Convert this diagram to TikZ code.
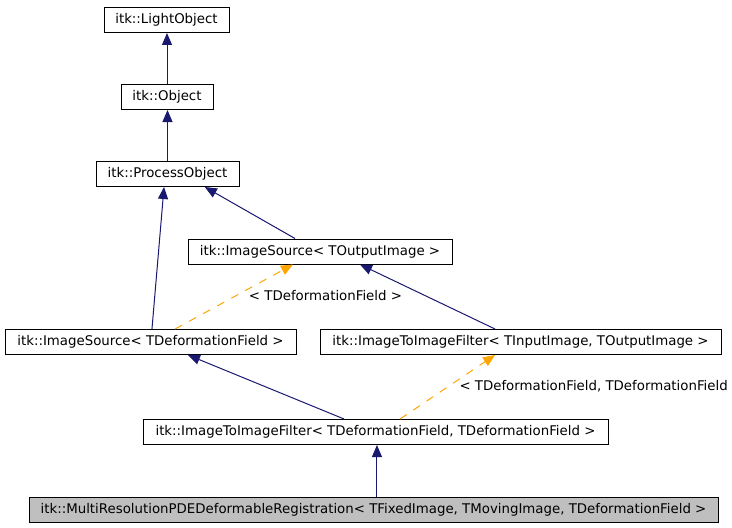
\documentclass[tikz,border=0pt]{standalone}
\usepackage{fontspec}
\setmainfont{DejaVu Sans}
\usetikzlibrary{arrows.meta}
\definecolor{edgeblue}{RGB}{25,25,112}
\definecolor{tmplorange}{RGB}{255,165,0}
\definecolor{boxgray}{RGB}{191,191,191}
\tikzset{every picture/.style={line width=0.75pt}}
\tikzset{
  classbox/.style={draw=black,fill=white,inner sep=0pt,minimum height=18.75pt,font=\fontsize{10pt}{12pt}\selectfont},
  inherit/.style={draw=edgeblue,line width=0.75pt,-{Triangle[length=9pt,width=7.5pt]}},
  tmplarg/.style={draw=tmplorange,line width=0.75pt,dash pattern=on 6pt off 6pt,-{Triangle[length=9pt,width=7.5pt,fill=tmplorange]}},
  tmpllabel/.style={inner sep=0pt,font=\fontsize{10pt}{12pt}\selectfont}
}
\begin{document}
\begin{tikzpicture}[x=0.75pt,y=0.75pt,yscale=-1,xscale=1]
\useasboundingbox (0,0) rectangle (732,528);
% Class Nodes
\node [classbox,minimum width=93.75pt] (light) at (166.5,20) {itk::LightObject};
\node [classbox,minimum width=69pt] (obj) at (167,97) {itk::Object};
\node [classbox,minimum width=107.25pt] (proc) at (167.5,174) {itk::ProcessObject};
\node [classbox,minimum width=198pt] (srcout) at (320,251.5) {itk::ImageSource< TOutputImage >};
\node [classbox,minimum width=218.25pt] (srcdef) at (150.5,342) {itk::ImageSource< TDeformationField >};
\node [classbox,minimum width=300.75pt] (itiio) at (520.5,342) {itk::ImageToImageFilter< TInputImage, TOutputImage >};
\node [classbox,minimum width=348.75pt] (itidef) at (375.5,432) {itk::ImageToImageFilter< TDeformationField, TDeformationField >};
\node [classbox,fill=boxgray,minimum width=516.75pt] (multi) at (373.5,509.5) {itk::MultiResolutionPDEDeformableRegistration< TFixedImage, TMovingImage, TDeformationField >};
% Template Labels
\node [tmpllabel] (lbldef) at (325.5,296) {< TDeformationField >};
\node [tmpllabel,anchor=west] (lbldefdef) at (459,386) {< TDeformationField, TDeformationField};
%Straight Lines
\draw [inherit] (obj.north) -- (obj.north |- light.south);
\draw [inherit] (proc.north) -- (proc.north |- obj.south);
\draw [inherit] ([xshift=1.1pt]srcdef.north) -- ([xshift=-2.6pt]proc.south);
\draw [inherit] ([xshift=-18.75pt]srcout.north) -- ([xshift=28pt]proc.south);
\draw [inherit] ([xshift=-19.1pt]itiio.north) -- ([xshift=30pt]srcout.south);
\draw [inherit] ([xshift=-23.6pt]itidef.north) -- ([xshift=28.1pt]srcdef.south);
\draw [inherit] ([xshift=2.6pt]multi.north) -- ([xshift=2.6pt]multi.north |- itidef.south);
%Dashed Lines
\draw [tmplarg] ([xshift=18.4pt]srcdef.north) -- ([xshift=-20.25pt]srcout.south);
\draw [tmplarg] ([xshift=18.4pt]itidef.north) -- ([xshift=-19.1pt]itiio.south);
\end{tikzpicture}
\end{document}
